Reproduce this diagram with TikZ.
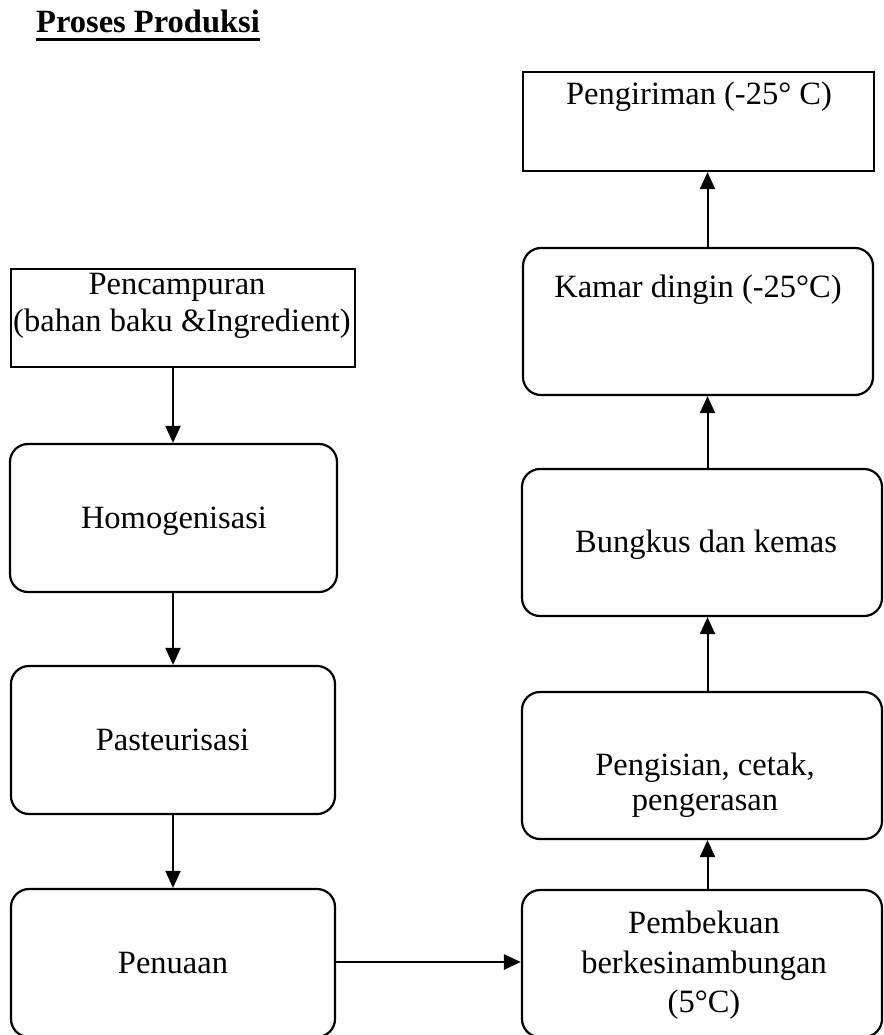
\documentclass[tikz,border=0pt]{standalone}
\usepackage{fontspec}
\setmainfont{Liberation Serif}
\usetikzlibrary{arrows.meta}
\begin{document}
\begin{tikzpicture}[x=1pt,y=-1pt,
  stage/.style={draw, line width=2.2pt, inner sep=0pt, rounded corners=18pt},
  plain/.style={draw, line width=2.2pt, inner sep=0pt},
  txt/.style={inner sep=0pt, anchor=base, font=\fontsize{32.5}{38}\selectfont},
  flow/.style={line width=2pt, -{Triangle[length=17pt,width=15pt]}},
  flowh/.style={line width=2.7pt, -{Triangle[length=17pt,width=15pt]}}]
\useasboundingbox (0,0) rectangle (883,1035);

% heading
\node[txt, anchor=base west, font=\fontsize{32.5}{38}\selectfont\bfseries] (title) at (36,33) {Proses Produksi};
\draw[line width=2.6pt] ([yshift=-6.5pt]title.base west) -- ([yshift=-6.5pt]title.base east);

% left column
\node[plain, minimum width=344pt, minimum height=98pt] (mix) at (183,318) {};
\node[txt] (mixa) at (177,294) {Pencampuran};
\node[txt] (mixb) at (182,331) {(bahan baku \&Ingredient)};

\node[stage, minimum width=327pt, minimum height=148pt] (homo) at (173.5,518) {};
\node[txt] (homot) at (174,528) {Homogenisasi};

\node[stage, minimum width=324pt, minimum height=148pt] (past) at (173,740) {};
\node[txt] (pastt) at (172.5,750) {Pasteurisasi};

\node[stage, minimum width=324pt, minimum height=148pt] (age) at (173,963) {};
\node[txt] (aget) at (173,973) {Penuaan};

% right column
\node[plain, minimum width=351pt, minimum height=99pt] (ship) at (698.5,121.5) {};
\node[txt] (shipt) at (699,105) {Pengiriman (-25° C)};

\node[stage, minimum width=350pt, minimum height=147pt] (cold) at (698,321.5) {};
\node[txt] (coldt) at (698,297) {Kamar dingin (-25°C)};

\node[stage, minimum width=360pt, minimum height=147pt] (pack) at (702,542.5) {};
\node[txt] (packt) at (706,552) {Bungkus dan kemas};

\node[stage, minimum width=360pt, minimum height=147pt] (fill) at (702,765.5) {};
\node[txt] (filla) at (705,775) {Pengisian, cetak,};
\node[txt] (fillb) at (705,810) {pengerasan};

\node[stage, minimum width=360pt, minimum height=147pt] (freeze) at (702,963.5) {};
\node[txt] (freezea) at (704,933) {Pembekuan};
\node[txt] (freezeb) at (704,973) {berkesinambungan};
\node[txt] (freezec) at (704,1012) {(5°C)};

% connector lanes
\coordinate (lx) at (173,0);
\coordinate (rx) at (707.5,0);

\draw[flow] (mix.south -| lx) -- (homo.north -| lx);
\draw[flow] (homo.south -| lx) -- (past.north -| lx);
\draw[flow] (past.south -| lx) -- (age.north -| lx);
\draw[flowh] ([yshift=1pt]age.east) -- ([yshift=1pt]age.east -| freeze.west);
\draw[flow] (freeze.north -| rx) -- (fill.south -| rx);
\draw[flow] (fill.north -| rx) -- (pack.south -| rx);
\draw[flow] (pack.north -| rx) -- (cold.south -| rx);
\draw[flow] (cold.north -| rx) -- (ship.south -| rx);
\end{tikzpicture}
\end{document}
